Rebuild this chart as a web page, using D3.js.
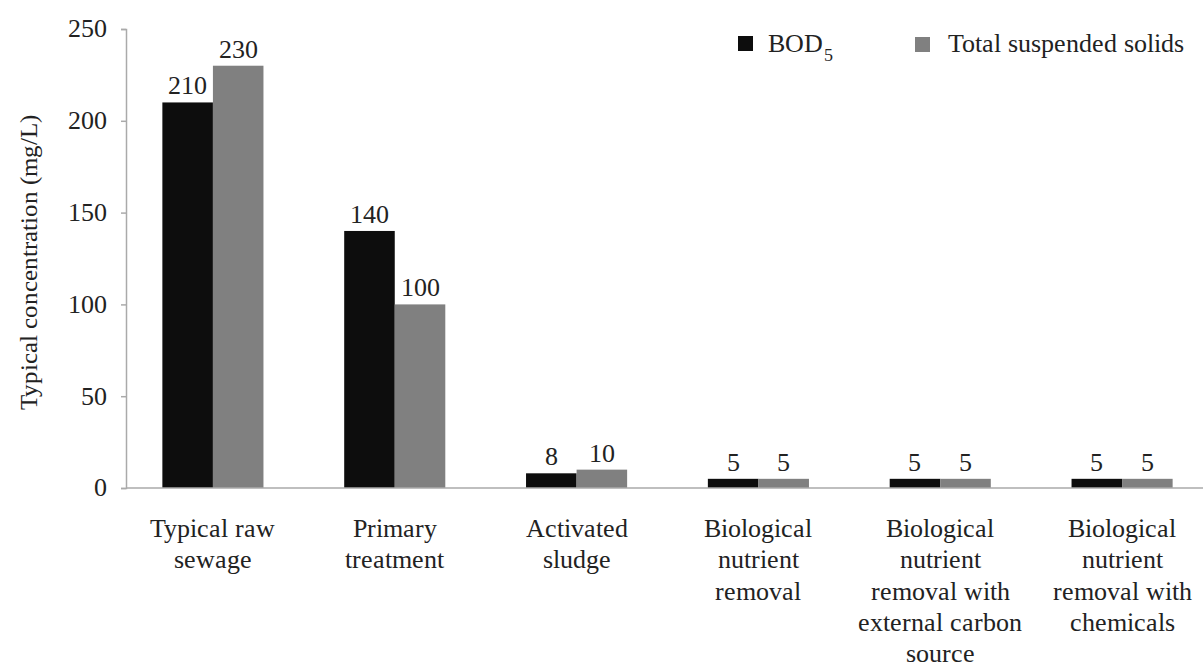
<!DOCTYPE html>
<html><head><meta charset="utf-8">
<script src="https://cdn.jsdelivr.net/npm/d3@7"></script>
<style>
@font-face { font-family: "ChartSerif"; src: local("Liberation Serif"), local("LiberationSerif"), local("Times New Roman"), local("Tinos"); }
</style>
</head><body style="margin:0;background:#fff">
<svg id="c" width="1203" height="666" style="display:block"></svg>
<script>
const categories = [
  ["Typical raw","sewage"],
  ["Primary","treatment"],
  ["Activated","sludge"],
  ["Biological","nutrient","removal"],
  ["Biological","nutrient","removal with","external carbon","source"],
  ["Biological","nutrient","removal with","chemicals"]
];
const bod5 = [210, 140, 8, 5, 5, 5];
const tss = [230, 100, 10, 5, 5, 5];
const yTicks = [0, 50, 100, 150, 200, 250];
const seriesNames = ["BOD", "Total suspended solids"];
const colors = ["#0d0d0d", "#808080"];

const FS = 26;
const FONT = "ChartSerif, 'Liberation Serif', Tinos, serif";
const svg = d3.select("#c");
const x0 = 122, x1 = 1213, yTop = 29, yBot = 488;
const x = d3.scaleBand().domain(d3.range(categories.length)).range([x0, x1]).paddingInner(0.444).paddingOuter(0.222);
const xs = d3.scaleBand().domain([0,1]).range([0, x.bandwidth()]);
const y = d3.scaleLinear().domain([0, 250]).range([yBot, yTop]);

function txt(sel, size) {
  return sel.attr("font-family", FONT).style("font-family", FONT).attr("font-size", size || FS).attr("fill", "#222");
}

// y axis
const ya = svg.append("g").attr("transform", `translate(126,0)`)
  .call(d3.axisLeft(y).tickValues(yTicks).tickSize(5).tickPadding(14));
ya.attr("font-family", FONT).attr("font-size", FS);
ya.select(".domain").attr("stroke", "#aaa").attr("stroke-width", 1.5);
ya.selectAll(".tick line").attr("stroke", "#aaa").attr("stroke-width", 1.5);
txt(ya.selectAll(".tick text")).attr("dy", "0.3em");

// bars
const data = [bod5, tss];
data.forEach((vals, si) => {
  svg.append("g").selectAll("rect").data(vals).join("rect")
    .attr("x", (d, i) => x(i) + xs(si))
    .attr("y", d => y(d))
    .attr("width", xs.bandwidth())
    .attr("height", d => yBot - y(d))
    .attr("fill", colors[si]);
  txt(svg.append("g").selectAll("text").data(vals).join("text"))
    .attr("x", (d, i) => x(i) + xs(si) + xs.bandwidth() / 2)
    .attr("y", d => y(d) - 8)
    .attr("text-anchor", "middle")
    .text(d => d);
});

// x baseline
svg.append("line").attr("x1", 126).attr("x2", 1203).attr("y1", yBot).attr("y2", yBot)
  .attr("stroke", "#aaa").attr("stroke-width", 1.5);

// category labels
categories.forEach((lines, i) => {
  lines.forEach((ln, j) => {
    txt(svg.append("text")).attr("text-anchor", "middle")
      .attr("x", x(i) + x.bandwidth() / 2).attr("y", 537 + j * 31.3).text(ln);
  });
});

// y label
txt(svg.append("text"), 25).attr("transform", "translate(37,262) rotate(-90)")
  .attr("text-anchor", "middle")
  .text("Typical concentration (mg/L)");

// legend
svg.append("rect").attr("x", 738).attr("y", 36).attr("width", 15).attr("height", 15).attr("fill", colors[0]);
txt(svg.append("text")).attr("x", 768).attr("y", 52).text(seriesNames[0]);
txt(svg.append("text"), 18).attr("x", 824).attr("y", 61).text("5");
svg.append("rect").attr("x", 915).attr("y", 37).attr("width", 15).attr("height", 15).attr("fill", colors[1]);
txt(svg.append("text")).attr("x", 948).attr("y", 52).text(seriesNames[1]);
</script>
</body></html>
